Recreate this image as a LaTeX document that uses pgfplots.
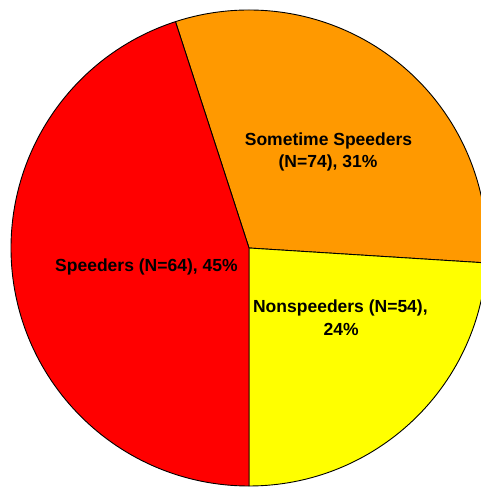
\documentclass[border=0pt]{standalone}
\usepackage{pgfplots}
\pgfplotsset{compat=1.18}
\usepackage{fontspec}
\setmainfont{Liberation Sans}

\definecolor{sometime}{HTML}{FF9900}
\definecolor{nonsp}{HTML}{FFFF00}
\definecolor{spd}{HTML}{FF0000}

\begin{document}
\begin{tikzpicture}
% page = 481 x 487, pie centre at (249,248) px from top left
\useasboundingbox (-11pt,-1pt) rectangle (470pt,486pt);
\begin{axis}[
    at={(0,0)}, anchor=south west,
    scale only axis, width=476pt, height=476pt,
    xmin=-1, xmax=1, ymin=-1, ymax=1,
    hide axis,
    clip=false,
]
% slices in percent, clockwise from 108 degrees
\xdef\a{108}
\foreach \v/\c in {31/sometime, 24/nonsp, 45/spd} {
    \pgfmathsetmacro\b{\a - 3.6*\v}
    \edef\temp{\noexpand\draw[fill=\c, line width=0.9pt, line join=round]
        (axis cs:0,0) -- (axis cs:{cos(\a)},{sin(\a)})
        arc[start angle=\a, end angle=\b, radius=238pt] -- cycle;}
    \temp
    \xdef\a{\b}
}
\tikzset{lbl/.style={anchor=base, font=\bfseries\fontsize{17.5}{21}\selectfont}}
\node[lbl] at (axis cs:0.334,0.429) {Sometime Speeders};
\node[lbl] at (axis cs:0.332,0.340) {(N=74), 31\%};
\node[lbl] at (axis cs:-0.431,-0.100) {Speeders (N=64), 45\%};
\node[lbl] at (axis cs:0.384,-0.272) {Nonspeeders (N=54),};
\node[lbl] at (axis cs:0.387,-0.366) {24\%};
\end{axis}
\end{tikzpicture}
\end{document}
